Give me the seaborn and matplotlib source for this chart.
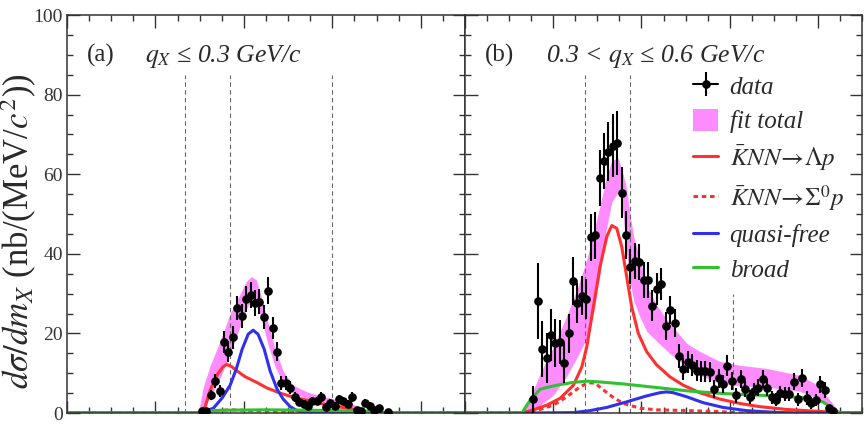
#!/usr/bin/env python3
"""
Two-panel m_X spectrum (q_X bins): data, fit band and fit components.
"""
import numpy as np
import matplotlib
matplotlib.use('Agg')
import matplotlib.pyplot as plt
import seaborn as sns
from matplotlib.lines import Line2D
from matplotlib.patches import Patch
from matplotlib.ticker import MultipleLocator, NullFormatter

# ---------------- data: panel (a)  q_X <= 0.3 GeV/c ----------------
a_mx = [2.305, 2.315, 2.325, 2.335, 2.345, 2.355, 2.365, 2.375, 2.385, 2.395,
        2.405, 2.415, 2.425, 2.435, 2.445, 2.455, 2.465, 2.475, 2.485, 2.495,
        2.505, 2.515, 2.525, 2.535, 2.545, 2.555, 2.565, 2.575, 2.585, 2.595,
        2.605, 2.615, 2.625, 2.635, 2.645, 2.655, 2.665, 2.675, 2.685, 2.695,
        2.705, 2.725]
a_val = [0.5, 0.5, 4.5, 8.0, 5.6, 17.9, 15.4, 19.0, 26.3, 24.4,
         28.6, 29.6, 27.6, 28.0, 24.2, 30.7, 21.3, 15.4, 7.5, 7.6,
         6.4, 4.1, 2.7, 2.3, 1.8, 3.0, 3.0, 4.1, 1.6, 2.6,
         1.8, 3.4, 3.0, 2.3, 4.1, 0.8, 0.6, 2.4, 1.8, 0.8,
         1.2, 0.3]
a_err = [0.5, 0.5, 1.3, 1.8, 1.5, 2.8, 2.6, 2.8, 3.0, 3.0,
         3.2, 3.2, 3.2, 3.2, 3.0, 3.4, 2.8, 2.4, 1.8, 1.8,
         1.7, 1.3, 1.0, 1.0, 0.9, 1.1, 1.1, 1.3, 0.8, 1.0,
         0.9, 1.2, 1.1, 1.0, 1.3, 0.6, 0.5, 1.0, 0.9, 0.6,
         0.7, 0.4]

# fit band (lower / upper) and components, panel (a)
a_band_x = [2.000, 2.297, 2.308, 2.324, 2.347, 2.369, 2.392, 2.405, 2.417, 2.428,
            2.441, 2.455, 2.471, 2.489, 2.511, 2.543, 2.572, 2.602, 2.647, 2.679,
            2.697, 2.900]
a_band_lo = [0, 0, 1.0, 4.0, 9.0, 15.0, 22.0, 26.0, 28.5, 28.0,
             23.0, 17.0, 11.5, 7.5, 5.0, 3.6, 2.8, 2.3, 1.2, 0.2,
             0, 0]
a_band_hi = [0, 0, 6.5, 12.0, 18.3, 25.0, 30.0, 33.0, 34.3, 33.5,
             28.5, 22.5, 16.0, 10.5, 7.0, 5.3, 4.3, 3.6, 2.2, 0.8,
             0, 0]

a_lp_x = [2.000, 2.297, 2.3125, 2.324, 2.339, 2.3525, 2.3616, 2.373, 2.384, 2.403,
          2.429, 2.452, 2.482, 2.511, 2.543, 2.572, 2.602, 2.633, 2.663, 2.693,
          2.720, 2.900]
a_lp_y = [0, 0, 1.6, 5.8, 9.5, 11.6, 12.2, 11.6, 10.6, 9.1,
          7.7, 6.3, 5.0, 4.0, 3.2, 2.4, 1.8, 1.2, 0.6, 0.1,
          0, 0]
a_sp_x = [2.000, 2.300, 2.330, 2.370, 2.420, 2.500, 2.550, 2.900]
a_sp_y = [0, 0, 0.5, 0.8, 0.6, 0.3, 0, 0]
a_qf_x = [2.000, 2.301, 2.308, 2.331, 2.351, 2.369, 2.3826, 2.396, 2.4097, 2.421,
          2.432, 2.446, 2.4595, 2.475, 2.4888, 2.5046, 2.5204, 2.5385, 2.561, 2.900]
a_qf_y = [0, 0, 0.3, 1.2, 3.8, 7.0, 11.0, 16.0, 19.8, 20.8,
          19.8, 16.0, 10.5, 6.0, 3.5, 1.6, 0.6, 0.1, 0, 0]
a_br_x = [2.000, 2.297, 2.310, 2.350, 2.450, 2.550, 2.650, 2.700, 2.730, 2.900]
a_br_y = [0, 0, 0.5, 0.7, 0.8, 0.7, 0.5, 0.3, 0, 0]

# ---------------- data: panel (b)  0.3 < q_X <= 0.6 GeV/c ----------------
b_mx = [2.155, 2.165, 2.175, 2.185, 2.195, 2.205, 2.215, 2.225, 2.235, 2.245,
        2.255, 2.265, 2.275, 2.285, 2.295, 2.305, 2.315, 2.325, 2.335, 2.345,
        2.355, 2.365, 2.375, 2.385, 2.395, 2.405, 2.415, 2.425, 2.435, 2.445,
        2.455, 2.465, 2.475, 2.485, 2.495, 2.505, 2.515, 2.525, 2.535, 2.545,
        2.555, 2.565, 2.575, 2.585, 2.595, 2.605, 2.615, 2.625, 2.635, 2.645,
        2.655, 2.665, 2.675, 2.685, 2.695, 2.705, 2.715, 2.725, 2.735, 2.745,
        2.755, 2.765, 2.775, 2.785, 2.795, 2.805, 2.815, 2.825, 2.835]
b_val = [3.4, 28.2, 16.1, 13.8, 19.6, 17.5, 17.8, 12.5, 20.0, 33.2,
         27.6, 29.5, 28.6, 44.1, 44.6, 59.0, 63.3, 65.7, 67.2, 67.8,
         55.4, 44.7, 36.8, 38.2, 38.0, 33.4, 33.4, 27.0, 31.1, 32.4,
         21.9, 25.8, 22.7, 14.3, 11.0, 12.9, 12.0, 10.6, 10.5, 10.5,
         10.3, 6.0, 8.7, 7.3, 11.9, 8.0, 4.5, 8.5, 6.0, 4.1,
         5.6, 6.4, 8.5, 6.4, 3.9, 3.3, 4.9, 4.8, 4.8, 7.9,
         3.4, 8.8, 3.8, 2.5, 3.3, 7.2, 5.8, 1.2, 0.5]
b_err = [3.3, 9.5, 7.0, 6.3, 6.5, 6.0, 5.5, 5.0, 5.0, 6.0,
         5.0, 5.0, 5.0, 6.0, 6.0, 7.0, 7.0, 7.5, 8.0, 8.0,
         6.5, 6.0, 4.5, 4.5, 4.5, 4.5, 4.5, 4.0, 4.0, 4.0,
         3.5, 3.5, 3.5, 3.0, 2.8, 2.8, 2.8, 2.6, 2.6, 2.6,
         2.6, 2.2, 2.4, 2.3, 2.6, 2.3, 1.9, 2.3, 2.1, 1.8,
         2.0, 2.1, 2.3, 2.1, 1.7, 1.6, 1.8, 1.8, 1.8, 2.2,
         1.6, 2.3, 1.7, 1.4, 1.5, 2.1, 2.0, 0.9, 0.6]

b_band_x = [2.000, 2.129, 2.148, 2.171, 2.200, 2.229, 2.254, 2.277, 2.293, 2.306,
            2.320, 2.333, 2.347, 2.356, 2.365, 2.374, 2.383, 2.397, 2.412, 2.435,
            2.464, 2.503, 2.532, 2.577, 2.623, 2.684, 2.758, 2.792, 2.815, 2.833,
            2.849, 2.900]
b_band_lo = [0, 0, 0.5, 2.0, 4.5, 9.0, 14.0, 19.0, 26.0, 35.0,
             46.0, 53.0, 55.5, 53.0, 42.0, 33.0, 28.0, 24.0, 20.5, 18.0,
             15.0, 11.5, 9.5, 7.5, 6.8, 6.5, 5.5, 4.0, 2.2, 0.8,
             0, 0]
b_band_hi = [0, 0, 4.0, 10.0, 16.5, 24.0, 31.0, 39.0, 46.0, 52.0,
             59.0, 63.5, 64.0, 61.0, 57.0, 50.0, 44.0, 38.5, 32.0, 27.0,
             22.5, 17.5, 15.5, 13.0, 12.0, 11.2, 9.5, 7.5, 5.0, 2.4,
             0, 0]

b_lp_x = [2.000, 2.129, 2.1555, 2.1858, 2.2158, 2.2459, 2.2649, 2.2762, 2.2911, 2.3062,
          2.3214, 2.3327, 2.344, 2.3553, 2.3666, 2.3779, 2.3928, 2.4118, 2.4343, 2.4644,
          2.4945, 2.5322, 2.5774, 2.6226, 2.6678, 2.7281, 2.7882, 2.8486, 2.860, 2.900]
b_lp_y = [0, 0, 0.8, 2.0, 3.7, 7.0, 11.6, 16.7, 26.7, 36.8,
          44.3, 47.1, 46.4, 41.8, 34.2, 26.7, 20.0, 15.4, 12.1, 9.1,
          7.0, 5.1, 3.5, 2.4, 1.6, 0.9, 0.5, 0.1, 0, 0]
b_sp_x = [2.000, 2.132, 2.1706, 2.2007, 2.231, 2.261, 2.2798, 2.2949, 2.3137, 2.3363,
          2.3589, 2.3966, 2.4343, 2.5096, 2.5849, 2.620, 2.900]
b_sp_y = [0, 0, 0.9, 2.0, 4.1, 6.6, 7.6, 7.5, 5.8, 3.9,
          2.4, 1.2, 0.8, 0.6, 0.3, 0, 0]
b_qf_x = [2.000, 2.148, 2.2459, 2.2836, 2.3214, 2.3666, 2.4118, 2.4418, 2.457, 2.4719,
          2.5021, 2.5397, 2.5849, 2.6377, 2.6979, 2.750, 2.900]
b_qf_y = [0, 0, 0.1, 0.6, 1.4, 2.8, 4.3, 5.1, 5.3, 5.1,
          4.1, 2.6, 1.4, 0.6, 0.2, 0, 0]
b_br_x = [2.000, 2.129, 2.148, 2.1706, 2.2084, 2.2459, 2.2762, 2.3062, 2.3589, 2.4343,
          2.5096, 2.5849, 2.6603, 2.7356, 2.7733, 2.8108, 2.8334, 2.8486, 2.855, 2.900]
b_br_y = [0, 0, 3.3, 6.0, 7.0, 7.7, 8.0, 7.8, 7.3, 6.4,
          5.5, 4.9, 4.5, 4.1, 3.8, 2.8, 1.2, 0.1, 0, 0]

# dashed reference lines (position, top of line)
a_vlines = [2.267, 2.369, 2.600]
a_vtops = [85, 85, 85]
b_vlines = [2.272, 2.374, 2.607]
b_vtops = [85, 85, 30]

# colours
PINK = '#ff8cff'
RED = '#ff3030'
BLUE = '#3030f0'
GREEN = '#30c030'
FRAME = '#333333'
TEXT = '#2a2a2a'
DOTTED = (0, (1.5, 1.2))

sns.set_theme(style='ticks')
plt.rcParams['font.family'] = ['Liberation Serif', 'DejaVu Serif']
plt.rcParams['mathtext.fontset'] = 'stix'
plt.rcParams['axes.edgecolor'] = FRAME
plt.rcParams['axes.linewidth'] = 1.1

fig = plt.figure(figsize=(8.64, 4.25), dpi=100)
ax_a = fig.add_axes([67 / 864, 12 / 425, 398 / 864, 398 / 425])
ax_b = fig.add_axes([465 / 864, 12 / 425, 397 / 864, 398 / 425])


def draw_panel(ax, band_x, lo, hi, comps, mx, val, err, vx, vtop):
    ax.fill_between(band_x, lo, hi, color=PINK, lw=0, zorder=1)
    ax.vlines(vx, 0, vtop, colors='#666666', linestyles=(0, (4, 3)), lw=0.8, zorder=1.5)
    for (cx, cy, col, ls) in comps:
        sns.lineplot(x=cx, y=cy, ax=ax, color=col, lw=2.2, linestyle=ls,
                     sort=False, estimator=None, zorder=2)
    ax.errorbar(mx, val, yerr=err, xerr=0.005, fmt='o', color='black', ms=5.2,
                elinewidth=1.5, capsize=0, zorder=3)
    ax.set_xlim(2.0, 2.9)
    ax.set_ylim(0, 100)
    ax.xaxis.set_major_locator(MultipleLocator(0.2))
    ax.xaxis.set_minor_locator(MultipleLocator(0.05))
    ax.yaxis.set_major_locator(MultipleLocator(20))
    ax.yaxis.set_minor_locator(MultipleLocator(5))
    ax.tick_params(which='both', direction='in', top=True, right=True,
                   color=FRAME, width=1.0)
    ax.tick_params(which='major', length=9)
    ax.tick_params(which='minor', length=4.5)
    ax.xaxis.set_major_formatter(NullFormatter())
    ax.set_xlabel('')
    ax.set_ylabel('')


draw_panel(ax_a, a_band_x, a_band_lo, a_band_hi,
           [(a_lp_x, a_lp_y, RED, '-'), (a_sp_x, a_sp_y, RED, DOTTED),
            (a_qf_x, a_qf_y, BLUE, '-'), (a_br_x, a_br_y, GREEN, '-')],
           a_mx, a_val, a_err, a_vlines, a_vtops)
draw_panel(ax_b, b_band_x, b_band_lo, b_band_hi,
           [(b_lp_x, b_lp_y, RED, '-'), (b_sp_x, b_sp_y, RED, DOTTED),
            (b_qf_x, b_qf_y, BLUE, '-'), (b_br_x, b_br_y, GREEN, '-')],
           b_mx, b_val, b_err, b_vlines, b_vtops)

ax_a.tick_params(axis='y', labelsize=14, labelcolor='#333333', pad=3)
ax_b.yaxis.set_major_formatter(NullFormatter())

# panel labels
ax_a.text(2.046, 88.3, '(a)', fontsize=18, color=TEXT)
ax_a.text(2.177, 88.3, r'$q_{X}$ ≤ 0.3 GeV/c', fontsize=18.5, style='italic', color=TEXT)
ax_b.text(2.046, 88.3, '(b)', fontsize=18, color=TEXT)
ax_b.text(2.184, 88.3, r'0.3 < $q_{X}$ ≤ 0.6 GeV/c', fontsize=18.5, style='italic', color=TEXT)

fig.text(0.022, (425 - 231) / 425, r'$d\sigma/dm_{X}$ (nb/(MeV/$c^{2}$))',
         rotation=90, ha='center', va='center', fontsize=25, color=TEXT)

# legend
data_handle = (Line2D([], [], color='black', lw=1.5),
               Line2D([], [], color='black', marker='|', ms=17, mew=1.5, linestyle='none'),
               Line2D([], [], color='black', marker='o', ms=5.2, linestyle='none'))
handles = [
    data_handle,
    Patch(facecolor=PINK, edgecolor='none'),
    Line2D([], [], color=RED, lw=2.2),
    Line2D([], [], color=RED, lw=2.2, linestyle=DOTTED),
    Line2D([], [], color=BLUE, lw=2.2),
    Line2D([], [], color=GREEN, lw=2.2),
]
labels = ['data', 'fit total', r'$\bar{K}NN\!\rightarrow\!\Lambda p$',
          r'$\bar{K}NN\!\rightarrow\!\Sigma^{0}p$', 'quasi-free', 'broad']
leg = ax_b.legend(handles, labels, loc='upper left', bbox_to_anchor=(0.55, 0.877),
                  frameon=False, fontsize=18, handlelength=1.0, handleheight=1.0,
                  handletextpad=0.45, labelspacing=0.4, borderaxespad=0)
for t in leg.get_texts():
    t.set_style('italic')
    t.set_color(TEXT)

fig.savefig('out.png', dpi=100)
